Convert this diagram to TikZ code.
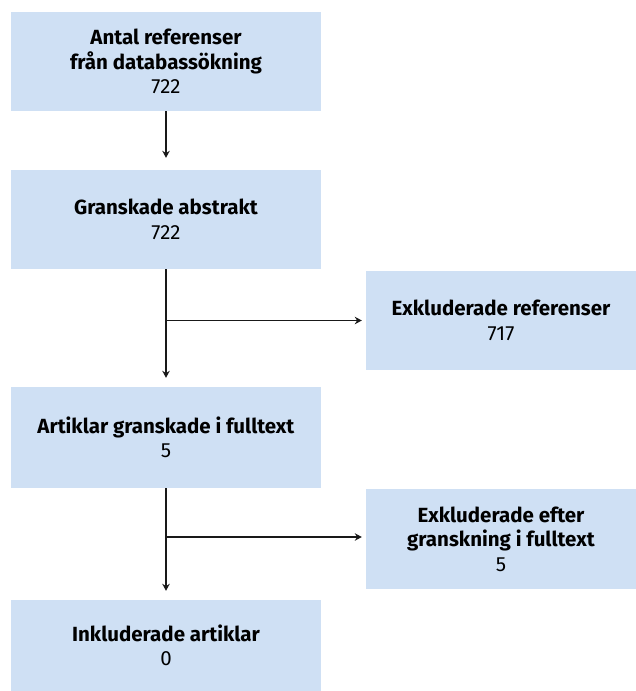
\documentclass[tikz,border=0pt]{standalone}
\usepackage{fontspec}
\setmainfont{Fira Sans}
\usepackage{tikz}
\usetikzlibrary{arrows.meta,positioning}
\definecolor{boxblue}{RGB}{207,224,244}
\definecolor{arrowgray}{RGB}{25,25,25}

\begin{document}
\begin{tikzpicture}[x=1pt,y=-1pt,
    flowbox/.style={fill=boxblue,draw=none,align=center,inner sep=0pt,
      font=\fontsize{20.5}{24.5}\selectfont,minimum height=99pt},
    leftbox/.style={flowbox,minimum width=310pt},
    rightbox/.style={flowbox,minimum width=270pt},
    flowarrow/.style={line width=1.3pt,arrowgray,-{Stealth[length=7pt,width=7.5pt]}}]
  \useasboundingbox (0,0) rectangle (636,691);
  \node[leftbox] (antal) at (166,61.5) {\textbf{Antal referenser}\\\textbf{från databassökning}\\722};
  \node[leftbox] (abstrakt) at (166,219.5) {\textbf{Granskade abstrakt}\\722};
  \node[rightbox] (exkl) at (501,320.5) {\textbf{Exkluderade referenser}\\717};
  \node[leftbox,minimum height=101pt] (fulltext) at (166,437.5) {\textbf{Artiklar granskade i fulltext}\\5};
  \node[rightbox,minimum height=100pt] (exklfull) at (501,539) {\textbf{Exkluderade efter}\\\textbf{granskning i fulltext}\\5};
  \node[leftbox,minimum height=91pt] (inkl) at (166,645.5) {\textbf{Inkluderade artiklar}\\0};
  % vertical flow
  \draw[flowarrow,shorten >=12pt] (antal) -- (abstrakt);
  \draw[flowarrow,shorten >=9pt] (abstrakt) -- (fulltext);
  \draw[flowarrow,shorten >=9pt] (fulltext) -- (inkl);
  % exclusions
  \draw[flowarrow,shorten >=4pt] (abstrakt.south |- exkl) -- (exkl);
  \draw[flowarrow,shorten >=4pt] (fulltext.south |- 0,537) -- (exklfull.west |- 0,537);
\end{tikzpicture}
\end{document}
